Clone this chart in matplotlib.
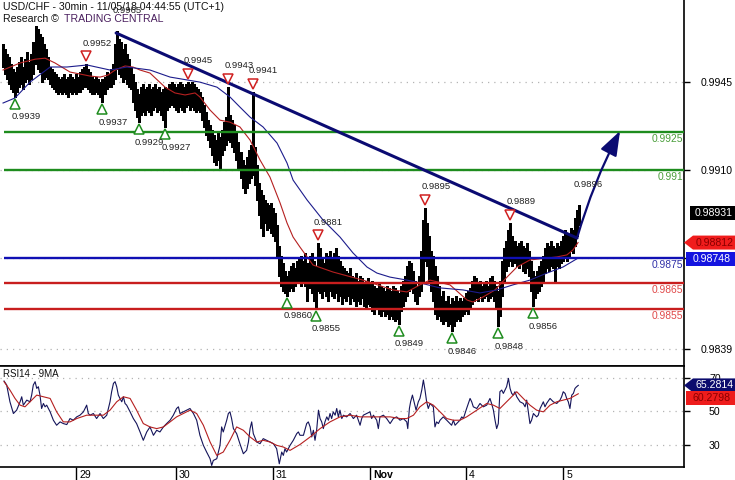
import numpy as np
import matplotlib
matplotlib.use("Agg")
import matplotlib.pyplot as plt
from matplotlib.transforms import offset_copy, IdentityTransform
from matplotlib.patches import Polygon

plt.rcParams['font.family'] = ['Liberation Sans', 'DejaVu Sans']

# ---------------- data ----------------
title = "USD/CHF - 30min - 11/05/18 04:44:55 (UTC+1)"

high = [
    .9960, .9958, .9956, .9955, .9952,
    .9950, .9949, .9951, .9953,
    .9955, .9951, .9954, .9957, .9953, .9956,
    .9961, .9967, .9966, .9964, .9963,
    .9960, .9958, .9955, .9951, .9950, .9949,
    .9948, .9947, .9946, .9947, .9948, .9946, .9947, .9948, .9947, .9946, .9948,
    .9947, .9949, .9950, .9951, .9952, .9950, .9949, .9947, .9946, .9947, .9946,
    .9945, .9946, .9947,
    .9949, .9948, .9950, .9952,
    .9960, .9965, .9962,
    .9961, .9958, .9960, .9956, .9954, .9951,
    .9948, .9945, .9942, .9940, .9943, .9944, .9942, .9943, .9944, .9942,
    .9943, .9944, .9942, .9943, .9941, .9942, .9943,
    .9942, .9944, .9945, .9944, .9943, .9944, .9945, .9944, .9943, .9944, .9945,
    .9944, .9945, .9944, .9943, .9942, .9941,
    .9939, .9936, .9933, .9930, .9928,
    .9926, .9924, .9922, .9925, .9923,
    .9926, .9929, .9931, .9943, .9932, .9930, .9928,
    .9925, .9921, .9917, .9914, .9912,
    .9915, .9918, .9920, .9941, .9919,
    .9912, .9905, .9902, .9900, .9898,
    .9897, .9896, .9897, .9895, .9893,
    .9888, .9880, .9876, .9873, .9870,
    .9868, .9870,
    .9872, .9873, .9871, .9874, .9875, .9876, .9874,
    .9877, .9873, .9876, .9877, .9874, .9872, .9881,
    .9879, .9875, .9873, .9877, .9876, .9878, .9875, .9877, .9879, .9876, .9874,
    .9872, .9871,
    .9870, .9869, .9871, .9868, .9867, .9869, .9866, .9868, .9867, .9865, .9866,
    .9867, .9865, .9866, .9864, .9863, .9865, .9864, .9863, .9862, .9864, .9863,
    .9862, .9864, .9863, .9862, .9861,
    .9864, .9866, .9868, .9872, .9874, .9873, .9870, .9866, .9864, .9868,
    .9878, .9890, .9895, .9889,
    .9884, .9878, .9876, .9872, .9868,
    .9864, .9860, .9862, .9858, .9860, .9857, .9859, .9858, .9860, .9858, .9859,
    .9858, .9859, .9861, .9862, .9863,
    .9866, .9868, .9867, .9865, .9866, .9864, .9865, .9866, .9864, .9867, .9868,
    .9866, .9864,
    .9862, .9866,
    .9874, .9879, .9882, .9886, .9889, .9884,
    .9882, .9880, .9881, .9882, .9880, .9879, .9881, .9878,
    .9874, .9870, .9868, .9870, .9872, .9874, .9876,
    .9879, .9881, .9880, .9882, .9880, .9879, .9881, .9880, .9882, .9884, .9886,
    .9885,
    .9884, .9887, .9886, .9891, .9894, .9896,
]

low = [
    .9951, .9948, .9946, .9944, .9942,
    .9941, .9939, .9941, .9943,
    .9944, .9942, .9945, .9946, .9944, .9946,
    .9948, .9952, .9950, .9949, .9945,
    .9946, .9947, .9946, .9944, .9943, .9942,
    .9941, .9940, .9941, .9940, .9941, .9940, .9939, .9941, .9940, .9941, .9940,
    .9941, .9941, .9942, .9943, .9943, .9942, .9941, .9940, .9940, .9941, .9940,
    .9939, .9937, .9940,
    .9942, .9943, .9943, .9944,
    .9946, .9950, .9948,
    .9947, .9945, .9946, .9944, .9943, .9942,
    .9937, .9934, .9931, .9929, .9932, .9933, .9932, .9934, .9933, .9932,
    .9934, .9935, .9933, .9934, .9932, .9930, .9927,
    .9934, .9935, .9936, .9935, .9934, .9933, .9935, .9934, .9933, .9935, .9936,
    .9934, .9935, .9934, .9933, .9934, .9933,
    .9930, .9927, .9924, .9922, .9919,
    .9916, .9913, .9912, .9914, .9910,
    .9916, .9918, .9920, .9922, .9921, .9919, .9917,
    .9914, .9911, .9907, .9903, .9901,
    .9903, .9905, .9907, .9908, .9904,
    .9898, .9892, .9887, .9884, .9889,
    .9886, .9887, .9885, .9884, .9882,
    .9875, .9868, .9864, .9862, .9861,
    .9860, .9862,
    .9863, .9862, .9864, .9865, .9866, .9864, .9865,
    .9864, .9858, .9863, .9861, .9858, .9855, .9862,
    .9861, .9859, .9862, .9860, .9858, .9862, .9860, .9859, .9861, .9858, .9860,
    .9857, .9859,
    .9858, .9860, .9857, .9859, .9858, .9856, .9858, .9857, .9859, .9856, .9855,
    .9857, .9856, .9854, .9853, .9855, .9853, .9852, .9854, .9852, .9853, .9851,
    .9852, .9851, .9850, .9851, .9849,
    .9854, .9856, .9858, .9860, .9862, .9863, .9861, .9858, .9857, .9860,
    .9862, .9866, .9874, .9872,
    .9866, .9862, .9858, .9853, .9851,
    .9852, .9850, .9849, .9850, .9848, .9849, .9846, .9848, .9850, .9851, .9850,
    .9852, .9853, .9854, .9853, .9855,
    .9857, .9858, .9859, .9858, .9860, .9858, .9859, .9860, .9858, .9859, .9860,
    .9858, .9855,
    .9848, .9852,
    .9860, .9866, .9870, .9872, .9874, .9872,
    .9873, .9872, .9871, .9873, .9870, .9869, .9871, .9868,
    .9862, .9856, .9859, .9861, .9862, .9864, .9866,
    .9869, .9871, .9870, .9872, .9871, .9866, .9872, .9871, .9873, .9874, .9876,
    .9874,
    .9876, .9878, .9877, .9880, .9884, .9888,
]

# moving averages (bar index, price)
ma_red_t = [0, 8.4, 15.8, 20.7, 25.6, 33, 42.9, 47.8, 51.7, 55.2, 60.1, 64, 67.5, 72.4,
            79.8, 84.7, 89.7, 94.6, 97, 102, 106.9, 111.8, 116.7, 121.7, 126.6, 131.5,
            136.5, 139.9, 142.9, 146.3, 152.7, 162.6, 177.3, 192.1, 199, 205.4, 210.3,
            220.2, 228.6, 231.5, 236.5, 242.4, 248.3, 253.2, 259.6, 272.9, 277.8, 280.8,
            283.3]
ma_red = [.99497, .99525, .99540, .99544, .99525, .99489, .99473, .99469, .99477, .99497,
          .99513, .99509, .99497, .99485, .99429, .99406, .99398, .99406, .99390, .99338,
          .99298, .99290, .99271, .99219, .99140, .99072, .98969, .98890, .98834, .98794,
          .98723, .98695, .98663, .98624, .98616, .98644, .98663, .98644, .98584, .98576,
          .98596, .98624, .98675, .98715, .98743, .98755, .98763, .98783, .98812]

ma_blue_t = [0, 5.9, 13.3, 23.2, 31.5, 41.4, 52.7, 61.1, 72.4, 82.3, 97, 105.4, 111.8,
             116.7, 121.7, 128.1, 135, 139.9, 142.9, 149.8, 157.6, 166, 172.4, 179.3,
             184.2, 190.6, 199, 205.4, 215.3, 226.6, 235, 243.3, 251.2, 259.6, 268,
             275.9, 282.8]
ma_blue = [.99366, .99386, .99449, .99509, .99509, .99517, .99497, .99509, .99497, .99469,
           .99449, .99429, .99390, .99350, .99310, .99271, .99207, .99128, .99060, .98981,
           .98902, .98834, .98771, .98715, .98691, .98675, .98663, .98652, .98632, .98624,
           .98612, .98624, .98644, .98663, .98691, .98715, .98748]

# RSI14 (bar index, value)
rsi_t = [0.5, 1.8, 3.4, 5.1, 6.7, 8.4, 9.2, 10, 11.7, 13.3, 14.1, 14.9, 15.8, 16.6, 17.4,
         18.2, 19, 19.9, 20.7, 21.5, 23.2, 24.8, 26.4, 28.1, 29.7, 31.4, 33, 34.6, 36.3,
         37.9, 39.6, 40.4, 41.2, 42, 42.9, 44.5, 46.1, 47.8, 49.4, 51.1, 52.7, 53.5, 54.4,
         55.2, 56, 56.8, 57.6, 58.5, 59.3, 60.1, 60.9, 62.6, 64.2, 65.8, 67.5, 69.1, 70.8,
         72.4, 74.1, 75.7, 77.3, 79, 80.6, 82.3, 83.9, 85.5, 86.4, 87.2, 88.8, 90.5, 92.1,
         93.8, 95.4, 97, 98.7, 100.3, 102, 102.8, 103.6, 105.3, 106.9, 107.7, 108.5, 110.2,
         111, 111.8, 112.6, 113.5, 115.1, 116.7, 118.4, 120, 120.9, 121.7, 122.5, 123.3,
         125, 126.6, 128.2, 129.9, 131.5, 133.2, 134.8, 136.1, 137.3, 138.1, 138.9, 139.7,
         141.4, 143, 144.7, 145.5, 146.3,
         148, 149.6, 150.4, 151.3, 152.1, 152.9, 153.7, 154.5, 155.4, 156.2, 157, 157.8,
         158.6, 159.5, 160.3, 161.1, 161.9, 162.7, 163.6, 164.4, 165.2, 166, 166.9, 167.7,
         169.3, 171, 172.6, 174.2, 175.9, 176.7, 177.5, 179.2, 180.8, 181.6, 182.5, 184.1,
         184.9, 185.7, 187.4, 189, 190.7, 192.3, 193.9, 195.6, 197.2, 198.9, 199.4, 200.2,
         200.8, 201.7, 202.5, 203.5, 204.6, 205.4, 206.3, 207.1, 207.9, 208.7, 209.5, 210.4,
         212, 212.8, 213.6, 214.5, 215.3, 216.9, 218.6, 220.2, 221, 221.9, 222.7, 223.5,
         225.1, 226, 226.8, 228.4, 230.1, 230.9, 231.7, 233.4, 235, 236.6, 238.3, 239.9,
         240.7, 241.6, 242.4, 243.2, 244, 244.8, 245.7, 246.5, 248.1, 249, 249.8, 250.6,
         251.4, 252.2, 253.1, 254.7, 256.3, 257.2, 258, 258.8, 259.6, 260.4, 261.3, 262.9,
         263.7, 264.6, 265.4, 266.2, 267, 267.8, 269.5, 271.1, 272.8, 274.4, 275.2, 276,
         276.9, 277.7, 278.5, 279.3, 280.2, 281, 281.8, 282.6, 283.4]
rsi = [67.9, 65.5, 55.5, 48.5, 50.5, 55.5, 58.5, 53.5, 56.5, 55.5, 59.5, 65.5, 67.5, 63.5,
       64.5, 59.5, 51.5, 54.5, 52.5, 53.5, 49.5, 44.5, 41.5, 43.5, 42.5, 41.9, 45.5, 44.5,
       46.5, 47.5, 49.5, 51.5, 53.5, 48.5, 47.5, 48.5, 45.5, 48.5, 45.5, 47.5, 55.5, 61.5,
       66.5, 67.5, 64.5, 59.5, 57.5, 55.5, 58.5, 54.5, 53.5, 49.5, 45.5, 42.5, 37.5, 32.5,
       37.5, 40.5, 35.5, 38.5, 37.5, 40.5, 42.5, 44.5, 47.5, 51.5, 52.5, 48.5, 49.5, 50.5,
       51.5, 48.5, 44.5, 35.5, 29.5, 25.5, 21.5, 17.5, 20.5, 21.5, 29.5, 40.5, 37.5, 44.5,
       48.5, 49.5, 45.5, 39.5, 36.5, 30.5, 24.5, 26.5, 31.5, 39.5, 43.5, 36.5, 31.5, 30.5,
       33.5, 32.5, 31.5, 30.5, 27.5, 18.5, 25.5, 23.5, 27.5, 25.5, 29.5, 32.5, 36.5, 37.5,
       35.5,
       35.5, 42.5, 43.5, 40.5, 34.5, 38.5, 32.5, 38.5, 50.5, 45.5, 43.5, 39.5, 43.5, 46.5,
       44.5, 48.5, 45.5, 49.5, 47.5, 51.5, 46.5, 50.5, 45.5, 47.5, 46.5, 48.5, 45.5, 47.5,
       41.5, 45.5, 47.5, 48.5, 49.5, 45.5, 47.5, 44.5, 39.5, 46.5, 47.5, 45.5, 42.5, 45.5,
       46.5, 44.5, 45.5, 43.5, 39.5, 51.5, 55.5, 59.5, 55.5, 50.5, 55.5, 57.5, 62.5, 68.5,
       62.5, 55.5, 51.5, 54.5, 52.5, 40.5, 43.5, 42.5, 44.5, 46.5, 44.5, 42.5, 41.5, 44.5,
       41.5, 42.5, 44.5, 46.5, 45.5, 51.5, 57.5, 55.5, 52.5, 51.5, 54.5, 52.5, 53.5, 57.5,
       54.5, 50.5, 44.5, 39.5, 42.5, 61.5, 62.5, 60.5, 64.5, 69.5, 63.5, 60.5, 59.5, 61.5,
       58.5, 55.5, 54.5, 52.5, 56.5, 49.5, 42.5, 44.5, 48.5, 46.5, 47.5, 51.5, 53.5, 55.5,
       52.5, 54.5, 57.5, 55.5, 54.5, 56.5, 58.5, 61.5, 60.5, 57.5, 55.5, 51.5, 59.5, 60.5,
       63.5, 64.5, 65.3]

rsi_ma_t = [0.5, 3.4, 5.9, 8.4, 10.8, 13.3, 16.6, 19.9, 23.2, 26.4, 29.7, 33, 36.3, 41.2,
            46.1, 49.4, 52.7, 56, 59.3, 62.6, 65.8, 69.1, 72.4, 75.7, 79, 82.3, 85.5, 88.8,
            92.1, 95.4, 98.7, 102, 105.3, 108.5, 111.8, 115.1, 118.4, 121.7, 125, 128.2,
            131.5, 134.8, 138.1, 141.4, 146.3, 151.3, 156.2, 161.1, 166, 171, 175.9, 180.8,
            185.7, 190.7, 195.6, 198.9, 202.2, 205.4, 208.7, 212, 215.3, 218.6, 221.9, 225.1,
            228.4, 233.4, 238.3, 241.6, 244.8, 248.1, 251.4, 253.1, 256.3, 259.6, 262.9,
            266.2, 269.5, 272.8, 276, 279.3, 283.4]
rsi_ma = [67.5, 62.5, 57.5, 53.5, 52.5, 55.5, 59.5, 58.5, 57.5, 49.5, 43.5, 43.5, 45.5,
          47.5, 47.5, 47.5, 50.5, 55.5, 58.5, 57.5, 50.5, 42.5, 40.5, 39.5, 40.5, 43.5,
          46.5, 48.5, 50.5, 48.5, 41.5, 31.5, 23.5, 25.5, 32.5, 40.5, 38.5, 34.5, 31.5,
          32.5, 31.5, 29.5, 28.5, 26.5, 30.0, 34.5, 39.5, 43.5, 46.5, 47.5, 46.5, 46.5,
          46.5, 46.5, 45.5, 45.5, 47.5, 52.5, 55.5, 53.5, 49.5, 45.5, 44.5, 44.5, 46.5,
          50.5, 54.5, 53.5, 51.5, 55.5, 59.5, 61.5, 57.5, 53.5, 50.5, 49.5, 53.5, 55.5,
          56.5, 57.5, 60.28]

# key levels
level_vals = [0.9925, 0.9910, 0.9875, 0.9865, 0.9855]
level_labels = ["0.9925", "0.991", "0.9875", "0.9865", "0.9855"]
level_kind = ["res", "res", "pivot", "sup", "sup"]

# pivots
pivot_hi_t = [41, 91, 111, 123, 155, 208, 250]
pivot_hi = [0.9952, 0.9945, 0.9943, 0.9941, 0.9881, 0.9895, 0.9889]
pivot_hi_open_t = [56, 283]
pivot_hi_open = [0.9965, 0.9896]
pivot_lo_t = [6, 49, 67, 80, 140, 154, 195, 221, 244, 261]
pivot_lo = [0.9939, 0.9937, 0.9929, 0.9927, 0.9860, 0.9855, 0.9849, 0.9846, 0.9848, 0.9856]

# trend line and target arrow
trend_t = [55.7, 282.8]
trend_p = [0.99644, 0.98830]
target_t, target_p = 304.0, 0.99255

# date axis
date_ticks = [36, 85, 133, 181, 228, 276]
date_labels = ["29", "30", "31", "Nov", "4", "5"]

last_price = 0.98931
last_red_ma = 0.98812
last_blue_ma = 0.98748
last_rsi = 65.2814
last_rsi_ma = 60.2798

# ---------------- figure ----------------
W, H = 735, 480
fig = plt.figure(figsize=(W / 100, H / 100), dpi=100)
ax = fig.add_axes([0, (H - 366) / H, 684 / W, 366 / H])
axr = fig.add_axes([0, 13 / H, 684 / W, 101 / H])

xlim = (-1.5, 335.5)
ax.set_xlim(*xlim)
ax.set_ylim(0.98322, 0.99775)
axr.set_xlim(*xlim)
axr.set_ylim(16.57, 76.87)

for a in (ax, axr):
    for s in ("left", "top"):
        a.spines[s].set_visible(False)
    for s in ("right", "bottom"):
        a.spines[s].set_color("black")
        a.spines[s].set_linewidth(1.2)
axr.spines["top"].set_visible(True)
axr.spines["top"].set_linewidth(1.2)

GRID = dict(color="#b4b4b4", linestyle=(0, (1, 4)), linewidth=0.9)

# price axis
ax.yaxis.tick_right()
pticks = [0.9945, 0.9910, 0.9875, 0.9839]
ax.set_yticks(pticks)
ax.set_yticklabels(["0.9945", "0.9910", "", "0.9839"])
ax.tick_params(axis="y", direction="out", length=4, width=1, pad=8, labelsize=7.6,
               colors="black")
ax.set_xticks([])
for p in pticks:
    ax.axhline(p, zorder=0, **GRID)

# rsi axis
axr.yaxis.tick_right()
axr.set_yticks([70, 50, 30])
axr.set_yticklabels(["70", "50", "30"])
axr.tick_params(axis="y", direction="out", length=4, width=1, pad=14, labelsize=7.6)
for v in (70, 50, 30):
    axr.axhline(v, zorder=0, **GRID)
axr.set_xticks(date_ticks)
axr.set_xticklabels([""] * len(date_ticks))
axr.tick_params(axis="x", direction="out", length=9, width=1, color="black")
for t, lab in zip(date_ticks, date_labels):
    axr.annotate(lab, xy=(t, 0), xycoords=("data", "axes fraction"), xytext=(3, -8),
                 textcoords="offset pixels", ha="left", va="center", fontsize=7.6,
                 fontweight="bold" if lab == "Nov" else "normal", annotation_clip=False)

# price bars
t = np.arange(len(high))
ax.vlines(t, low, high, colors="black", linewidth=0.9, antialiased=False, zorder=3)

# moving averages
ax.plot(ma_red_t, ma_red, color="#b52020", lw=0.8, zorder=4)
ax.plot(ma_blue_t, ma_blue, color="#1c1c8c", lw=0.8, zorder=4)

# levels
lvl_colors = {"res": ("#1e8c1e", "#4a9e3a"), "pivot": ("#1010b4", "#3030a8"),
              "sup": ("#c81e1e", "#e04848")}
for v, lab, k in zip(level_vals, level_labels, level_kind):
    lc, tc = lvl_colors[k]
    ax.hlines(v, 0.5, xlim[1], colors=lc, linewidth=1.7, zorder=5)
    ax.annotate(lab, xy=(1, v), xycoords=("axes fraction", "data"), xytext=(-1, -7),
                textcoords="offset pixels", ha="right", va="center", fontsize=7.4,
                color=tc)

# trend line + arrow
navy = "#0b0b72"
ax.plot(trend_t, trend_p, color=navy, lw=2.2, solid_capstyle="round", zorder=6)
ax.annotate("", xy=(target_t, target_p), xytext=(trend_t[1], trend_p[1]),
            arrowprops=dict(arrowstyle="-|>,head_length=1.0,head_width=0.36", color=navy,
                            lw=1.6, mutation_scale=15, shrinkA=0, shrinkB=0,
                            connectionstyle="arc3,rad=-0.05"), zorder=6)

# pivots
tr_up = offset_copy(ax.transData, fig=fig, x=0, y=-7, units="dots")
tr_dn = offset_copy(ax.transData, fig=fig, x=0, y=8, units="dots")
ax.plot(pivot_lo_t, pivot_lo, linestyle="none", marker="^", markersize=6.8, mew=1.1,
        mfc="white", mec="#1e8c1e", transform=tr_up, zorder=7)
ax.plot(pivot_hi_t, pivot_hi, linestyle="none", marker="v", markersize=6.8, mew=1.1,
        mfc="white", mec="#d02020", transform=tr_dn, zorder=7)
for x, p in zip(pivot_lo_t, pivot_lo):
    ax.annotate(f"{p:.4f}", xy=(x, p), xytext=(-4, -20), textcoords="offset pixels",
                ha="left", va="center", fontsize=6.8, color="#222222", zorder=8)
for x, p in zip(pivot_hi_t + pivot_hi_open_t, pivot_hi + pivot_hi_open):
    ax.annotate(f"{p:.4f}", xy=(x, p), xytext=(-4, 21), textcoords="offset pixels",
                ha="left", va="center", fontsize=6.8, color="#222222", zorder=8,
                annotation_clip=False)

# rsi lines
axr.plot(rsi_t, rsi, color="#14145a", lw=0.8, zorder=4)
axr.plot(rsi_ma_t, rsi_ma, color="#b52020", lw=0.8, zorder=5)

# titles
fig.text(3 / W, 1 - 7 / H, title, ha="left", va="center", fontsize=7.6, color="#111111")
fig.text(3 / W, 1 - 19 / H, "Research \u00a9", ha="left", va="center", fontsize=7.6,
         color="#111111")
fig.text(64 / W, 1 - 19 / H, "TRADING CENTRAL", ha="left", va="center", fontsize=7.6,
         color="#4a1f5e")
fig.text(3 / W, 1 - 374 / H, "RSI14 - 9MA", ha="left", va="center", fontsize=7.0,
         color="#111111")

# value tags on the right axis
fig.canvas.draw()
ID = IdentityTransform()


def tag(axis, val, text, bg, fg, arrow, dy=0, x0=686):
    yc = axis.transData.transform((0, val))[1] + dy
    h = 7
    if arrow:
        pts = [(684, yc), (693, yc + h), (735, yc + h), (735, yc - h), (693, yc - h)]
    else:
        pts = [(x0, yc + h), (735, yc + h), (735, yc - h), (x0, yc - h)]
    fig.add_artist(Polygon(pts, closed=True, facecolor=bg, edgecolor="none",
                           transform=ID, zorder=20))
    xc = (pts[1][0] + 735) / 2 if arrow else (x0 + 735) / 2
    fig.text(xc + 1, yc, text, transform=ID, ha="center", va="center", fontsize=7.6,
             color=fg, zorder=21)


tag(ax, last_price, f"{last_price:.5f}", "#000000", "white", False, x0=690)
tag(ax, last_red_ma, f"{last_red_ma:.5f}", "#f01c1c", "#8a0000", True)
tag(ax, last_blue_ma, f"{last_blue_ma:.5f}", "#1414e0", "white", False)
tag(axr, last_rsi, f"{last_rsi:.4f}", "#0c0c6e", "white", True)
tag(axr, last_rsi_ma, f"{last_rsi_ma:.4f}", "#ee1c1c", "#8a0000", False, dy=-4)

fig.savefig("out.png", dpi=100, facecolor="white")
